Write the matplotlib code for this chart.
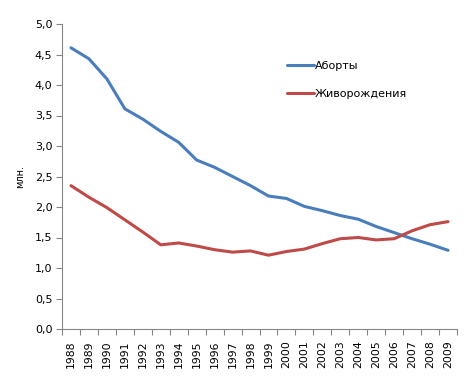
import matplotlib
matplotlib.use('Agg')
import matplotlib.pyplot as plt
import numpy as np

# ── Data (million) ───────────────────────────────────────────────────────────
years = [str(y) for y in range(1988, 2010)]
abortions = [4.61, 4.43, 4.10, 3.61, 3.44, 3.24, 3.06, 2.77, 2.65, 2.50, 2.35,
             2.18, 2.14, 2.01, 1.94, 1.86, 1.80, 1.68, 1.58, 1.48, 1.39, 1.29]
births = [2.35, 2.16, 1.99, 1.79, 1.59, 1.38, 1.41, 1.36, 1.30, 1.26, 1.28,
          1.21, 1.27, 1.31, 1.40, 1.48, 1.50, 1.46, 1.48, 1.61, 1.71, 1.76]
y_ticks = np.arange(0, 5.01, 0.5)

blue = '#4A7EBB'
red = '#BE4B48'
axis_col = '#868686'

plt.rcParams['font.family'] = ['DejaVu Sans']

fig = plt.figure(figsize=(4.76, 3.84), dpi=100)
ax = fig.add_axes([62/476, 1 - 329/384, 395/476, 305/384])

x = np.arange(len(years))
ax.plot(x, abortions, color=blue, lw=2.2, label='Аборты', solid_capstyle='round')
ax.plot(x, births, color=red, lw=2.2, label='Живорождения', solid_capstyle='round')

ax.set_xlim(-0.5, len(years) - 0.5)
ax.set_ylim(0, 5)

# y axis
ax.set_yticks(y_ticks)
ax.set_yticklabels([f'{v:.1f}'.replace('.', ',') for v in y_ticks], fontsize=8)
ax.tick_params(axis='y', length=4, color=axis_col, pad=3)

# x axis: tick marks between categories, labels at centres
ax.set_xticks(np.arange(-0.5, len(years), 1))
ax.set_xticklabels([])
ax.set_xticks(x, minor=True)
ax.set_xticklabels(years, minor=True, rotation=90, fontsize=7.8)
ax.tick_params(axis='x', which='major', length=4, color=axis_col)
ax.tick_params(axis='x', which='minor', length=0, pad=8)

for s in ['top', 'right']:
    ax.spines[s].set_visible(False)
for s in ['left', 'bottom']:
    ax.spines[s].set_color(axis_col)

ax.set_ylabel('млн.', fontsize=7, labelpad=7)

ax.legend(loc='upper left', bbox_to_anchor=(0.57, 0.878), frameon=False,
          fontsize=8, handlelength=2.4, handletextpad=0.1, labelspacing=1.6,
          borderpad=0, borderaxespad=0)

plt.savefig('out.png', dpi=100, facecolor='white')
